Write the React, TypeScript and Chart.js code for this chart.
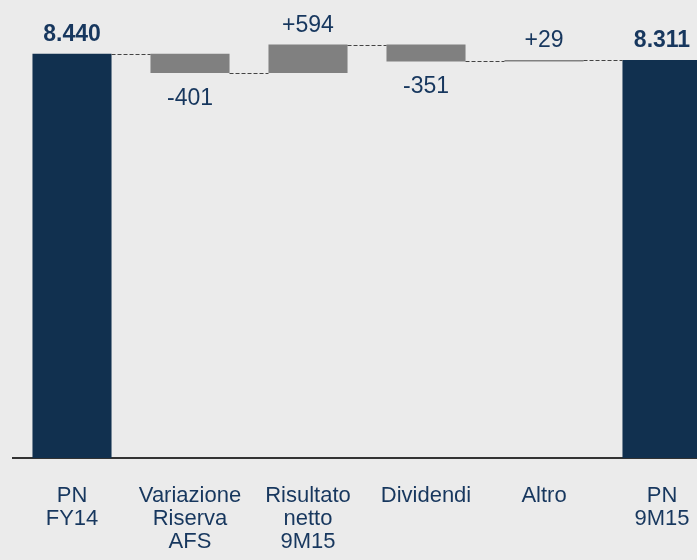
import React, { useEffect, useRef } from "react";
import { Chart, registerables } from "chart.js";

Chart.register(...registerables);

const categories: string[][] = [
  ["PN", "FY14"],
  ["Variazione", "Riserva", "AFS"],
  ["Risultato", "netto", "9M15"],
  ["Dividendi"],
  ["Altro"],
  ["PN", "9M15"],
];
const startTotal = 8440;
const deltas = [-401, 594, -351, 29];
const endTotal = 8311;

const NAVY = "#11304f";
const GREY = "#808080";
const TEXT = "#17375e";
const FONT = "'Liberation Sans', Arial, sans-serif";

function fmtTotal(v: number): string {
  return v.toString().replace(/\B(?=(\d{3})+(?!\d))/g, ".");
}
function fmtDelta(v: number): string {
  return (v > 0 ? "+" : "") + v.toString();
}

export default function App() {
  const ref = useRef<HTMLCanvasElement | null>(null);

  useEffect(() => {
    if (!ref.current) return;
    const ranges: [number, number][] = [];
    const ends: number[] = [];
    const labels: string[] = [];
    const kinds: string[] = [];
    ranges.push([0, startTotal]);
    ends.push(startTotal);
    labels.push(fmtTotal(startTotal));
    kinds.push("total");
    let cum = startTotal;
    deltas.forEach((d) => {
      ranges.push([cum, cum + d]);
      cum += d;
      ends.push(cum);
      labels.push(fmtDelta(d));
      kinds.push(d >= 0 ? "up" : "down");
    });
    ranges.push([0, endTotal]);
    ends.push(endTotal);
    labels.push(fmtTotal(endTotal));
    kinds.push("total");

    const overlay = {
      id: "waterfallOverlay",
      afterDatasetsDraw(chart: any) {
        const ctx = chart.ctx;
        const meta = chart.getDatasetMeta(0);
        const ys = chart.scales.y;
        ctx.save();
        // connectors
        ctx.strokeStyle = "#444444";
        ctx.lineWidth = 1;
        ctx.setLineDash([4, 2]);
        for (let i = 0; i < meta.data.length - 1; i++) {
          const a = meta.data[i];
          const b = meta.data[i + 1];
          const y = Math.round(ys.getPixelForValue(ends[i])) + 0.5;
          ctx.beginPath();
          ctx.moveTo(a.x + a.width / 2, y);
          ctx.lineTo(b.x - b.width / 2, y);
          ctx.stroke();
        }
        ctx.setLineDash([]);
        // value labels
        ctx.textAlign = "center";
        ctx.textBaseline = "alphabetic";
        ctx.fillStyle = TEXT;
        meta.data.forEach((el: any, i: number) => {
          const top = Math.min(el.y, el.base);
          const bottom = Math.max(el.y, el.base);
          if (kinds[i] === "total") {
            ctx.font = `bold 23px ${FONT}`;
            ctx.fillText(labels[i], el.x, top - 13);
          } else if (kinds[i] === "up") {
            ctx.font = `23px ${FONT}`;
            ctx.fillText(labels[i], el.x, top - 13);
          } else {
            ctx.font = `23px ${FONT}`;
            ctx.fillText(labels[i], el.x, bottom + 32);
          }
        });
        ctx.restore();
      },
    };

    const chart = new Chart(ref.current, {
      type: "bar",
      data: {
        labels: categories,
        datasets: [
          {
            data: ranges as any,
            backgroundColor: kinds.map((k) => (k === "total" ? NAVY : GREY)),
            borderWidth: 0,
            barPercentage: 0.67,
            categoryPercentage: 1,
          },
        ],
      },
      options: {
        animation: false,
        responsive: true,
        maintainAspectRatio: false,
        layout: { padding: { left: 13, right: 9, top: 27, bottom: 9 } },
        plugins: {
          legend: { display: false },
          tooltip: { enabled: false },
        },
        scales: {
          x: {
            grid: { display: false, drawTicks: false },
            border: { display: true, color: "#333333", width: 2 },
            ticks: {
              color: TEXT,
              font: { family: FONT, size: 22, lineHeight: 23 / 22 },
              padding: 26,
              maxRotation: 0,
              autoSkip: false,
            },
            afterFit: (scale: any) => {
              scale.height = 93;
            },
          },
          y: {
            display: false,
            min: 0,
            max: 9000,
          },
        },
      },
      plugins: [overlay],
    });
    return () => chart.destroy();
  }, []);

  return (
    <div
      style={{
        position: "fixed",
        left: 0,
        top: 0,
        width: 697,
        height: 560,
        overflow: "hidden",
        background: "#ebebeb",
      }}
    >
      <div style={{ position: "absolute", left: 0, top: 0, width: 730, height: 560 }}>
        <canvas ref={ref} />
      </div>
    </div>
  );
}
